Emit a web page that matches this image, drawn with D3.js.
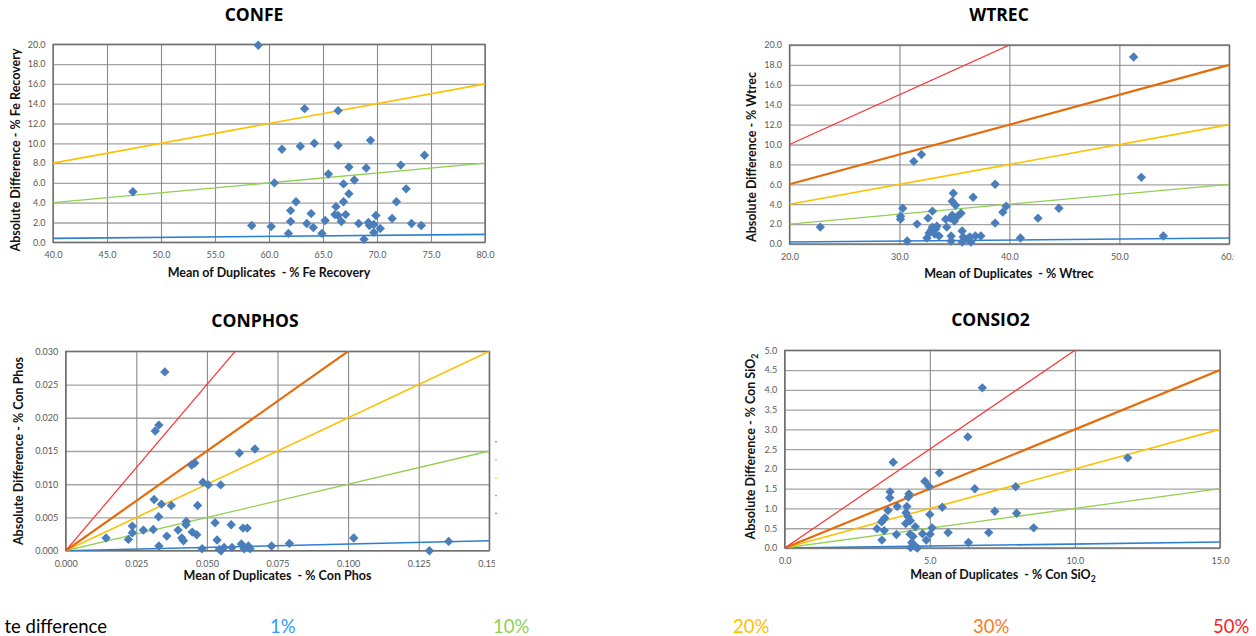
<!DOCTYPE html>
<html>
<head>
<meta charset="utf-8">
<script src="https://cdn.jsdelivr.net/npm/d3@7"></script>
<style>
  body { margin: 0; background: #fff; }
  svg { display: block; font-family: Lato, "Open Sans", sans-serif; }
</style>
</head>
<body>
<svg id="chart" width="1256" height="636"></svg>
<script>
// percent-difference reference lines
var pctLevels = [0.01, 0.10, 0.20, 0.30, 0.50];
var pctLabels = ["1%", "10%", "20%", "30%", "50%"];
var legendTitle = "te difference"; // left part is cut off in the source picture

// CONFE
var confeX = [59.0,47.4,61.2,60.5,62.5,62.0,62.0,61.8,58.4,60.2,62.9,63.3,66.4,64.2,66.4,69.4,74.4,72.2,67.4,69.0,65.5,67.9,66.9,72.7,67.4,66.9,71.8,66.2,63.9,66.1,66.4,67.1,69.9,71.4,63.5,65.2,66.7,68.3,69.2,69.3,69.7,73.2,74.1,64.1,70.3,69.7,64.9,68.8];
var confeY = [19.9,5.1,9.4,6.0,4.1,3.2,2.1,0.9,1.7,1.6,9.7,13.5,13.3,10.0,9.8,10.3,8.8,7.8,7.6,7.5,6.9,6.3,5.9,5.4,4.9,4.1,4.1,3.6,2.9,2.8,2.7,2.8,2.7,2.4,1.9,2.2,2.1,1.9,2.0,1.7,1.8,1.9,1.7,1.5,1.4,1.0,0.9,0.3];
var confeXTicks = [40,45,50,55,60,65,70,75,80];
var confeYTicks = [0,2,4,6,8,10,12,14,16,18,20];

// WTREC
var wtrecX = [22.8,30.1,30.1,30.3,30.7,31.3,32.0,31.6,32.6,33.0,32.5,32.7,32.9,33.0,33.2,33.3,33.4,33.6,34.2,34.3,34.7,34.7,34.6,34.8,34.9,34.8,35.1,35.0,35.2,35.4,35.6,35.7,35.8,35.7,36.2,36.4,36.5,36.7,36.9,37.4,38.7,38.7,39.4,39.7,41.0,42.6,44.5,51.3,52.0,54.0];
var wtrecY = [1.7,2.8,2.5,3.6,0.3,8.3,9.0,2.0,2.6,3.3,0.6,1.1,1.4,1.7,1.0,1.5,1.8,0.8,2.5,1.7,0.3,0.8,2.6,2.9,5.1,4.3,3.9,2.3,2.7,2.9,3.1,1.3,0.7,0.2,0.5,0.7,0.2,4.7,0.8,0.8,6.0,2.1,3.2,3.8,0.6,2.6,3.6,18.8,6.7,0.8];
var wtrecXTicks = [20,30,40,50,60];
var wtrecYTicks = [0,2,4,6,8,10,12,14,16,18,20];

// CONPHOS
var conphosX = [0.0143,0.0222,0.0236,0.0236,0.0275,0.0310,0.0313,0.0317,0.0330,0.0351,0.0329,0.0339,0.0330,0.0358,0.0374,0.0398,0.0411,0.0417,0.0426,0.0427,0.0446,0.0457,0.0448,0.0464,0.0467,0.0483,0.0486,0.0505,0.0529,0.0536,0.0549,0.0544,0.0550,0.0561,0.0586,0.0589,0.0615,0.0622,0.0628,0.0632,0.0643,0.0647,0.0653,0.0670,0.0729,0.0792,0.1020,0.1288,0.1356];
var conphosY = [0.0019,0.0017,0.0037,0.0027,0.0031,0.0032,0.0077,0.0180,0.0189,0.0269,0.0051,0.0070,0.0007,0.0022,0.0068,0.0031,0.0019,0.0015,0.0039,0.0044,0.0129,0.0132,0.0028,0.0024,0.0068,0.0003,0.0103,0.0099,0.0042,0.0016,0.0099,0.0002,0.0000,0.0005,0.0039,0.0005,0.0147,0.0010,0.0034,0.0003,0.0034,0.0007,0.0003,0.0153,0.0007,0.0011,0.0019,0.0000,0.0014];
var conphosXTicks = [0,0.025,0.05,0.075,0.1,0.125,0.15];
var conphosYTicks = [0,0.005,0.01,0.015,0.02,0.025,0.03];

// CONSIO2
var consio2X = [3.18,3.35,3.34,3.39,3.43,3.45,3.56,3.62,3.63,3.74,3.85,3.88,4.17,4.18,4.21,4.25,4.26,4.28,4.32,4.33,4.34,4.38,4.42,4.45,4.50,4.51,4.57,4.75,4.83,4.88,4.97,5.00,5.01,5.08,5.33,5.43,5.63,6.31,6.33,6.55,6.81,7.03,7.24,7.96,7.99,8.58,11.82];
var consio2Y = [0.49,0.20,0.66,0.71,0.44,0.76,0.95,1.27,1.42,2.17,0.34,1.05,0.62,0.89,1.05,0.79,1.29,1.37,0.35,0.69,0.01,0.14,0.29,0.07,0.54,0.03,0.00,0.36,1.69,0.20,1.56,0.85,0.35,0.51,1.90,1.03,0.39,2.81,0.14,1.50,4.05,0.39,0.93,1.55,0.88,0.51,2.28];
var consio2XTicks = [0,5,10,15];
var consio2YTicks = [0,0.5,1,1.5,2,2.5,3,3.5,4,4.5,5];

var lineColors = ["#2e7fd0", "#92d050", "#ffc000", "#e46c0a", "#ff3030"];
var lineWidths = [1.6, 1.3, 1.6, 2.2, 1.2];
var legendColors = ["#3399ff", "#92d050", "#ffc000", "#ff7a1e", "#ff1a1a"];
var legendX = [270, 493, 733, 973, 1213];

var panels = [
  { id: "confe", title: "CONFE", xs: confeX, ys: confeY, xTicks: confeXTicks, yTicks: confeYTicks, fmt: ".1f",
    box: [53, 485, 44.3, 242.3], lines: [0, 1, 2], clipRight: 520,
    titlePos: [254, 21], xLab: ["Mean of Duplicates  - % Fe Recovery"], xLabPos: [269, 277],
    yLab: ["Absolute Difference - % Fe Recovery"], yLabPos: [19.5, 150] },
  { id: "wtrec", title: "WTREC", xs: wtrecX, ys: wtrecY, xTicks: wtrecXTicks, yTicks: wtrecYTicks, fmt: ".1f",
    box: [789.5, 1229.3, 45, 244], lines: [0, 1, 2, 3, 4], clipRight: 1234,
    titlePos: [999, 21], xLab: ["Mean of Duplicates  - % Wtrec"], xLabPos: [1009, 278],
    yLab: ["Absolute Difference - % Wtrec"], yLabPos: [756, 157] },
  { id: "conphos", title: "CONPHOS", xs: conphosX, ys: conphosY, xTicks: conphosXTicks, yTicks: conphosYTicks, fmt: ".3f",
    box: [65.7, 489.3, 351.3, 550.7], lines: [0, 1, 2, 3, 4], clipRight: 495,
    titlePos: [255, 327], xLab: ["Mean of Duplicates  - % Con Phos"], xLabPos: [277.5, 580],
    yLab: ["Absolute Difference - % Con Phos"], yLabPos: [23, 451] },
  { id: "consio2", title: "CONSIO2", xs: consio2X, ys: consio2Y, xTicks: consio2XTicks, yTicks: consio2YTicks, fmt: ".1f",
    box: [784.7, 1220, 350.3, 548], lines: [0, 1, 2, 3, 4], clipRight: 1256,
    titlePos: [990.5, 326], xLab: ["Mean of Duplicates  - % Con SiO", "2"], xLabPos: [1003, 579],
    yLab: ["Absolute Difference - % Con SiO", "2"], yLabPos: [755, 446.5] }
];

var svg = d3.select("#chart");
var defs = svg.append("defs");

function addLabel(g, parts, fontSize) {
  g.append("tspan").text(parts[0]);
  if (parts.length > 1) {
    g.append("tspan").attr("font-size", fontSize * 0.7).attr("dy", 3).text(parts[1]);
  }
}

panels.forEach(function(p) {
  var x = d3.scaleLinear().domain(d3.extent(p.xTicks)).range([p.box[0], p.box[1]]);
  var y = d3.scaleLinear().domain(d3.extent(p.yTicks)).range([p.box[3], p.box[2]]);
  var w = p.box[1] - p.box[0], h = p.box[3] - p.box[2];
  var fmt = d3.format(p.fmt);

  defs.append("clipPath").attr("id", "plot-" + p.id)
    .append("rect").attr("x", p.box[0]).attr("y", p.box[2]).attr("width", w).attr("height", h);
  defs.append("clipPath").attr("id", "edge-" + p.id)
    .append("rect").attr("x", 0).attr("y", 0).attr("width", p.clipRight).attr("height", 636);

  var g = svg.append("g").attr("clip-path", "url(#edge-" + p.id + ")");

  // horizontal gridlines + y tick labels
  var yAxis = g.append("g")
    .attr("transform", "translate(" + p.box[0] + ",0)")
    .call(d3.axisLeft(y).tickValues(p.yTicks).tickSize(-w).tickPadding(7.5).tickFormat(fmt));
  yAxis.select(".domain").remove();
  yAxis.selectAll("line").attr("stroke", "#a3a3a3").attr("stroke-width", 1.3);
  yAxis.selectAll("text").attr("fill", "#595959").attr("font-size", 9).attr("font-family", "Lato");

  // vertical gridlines + x tick labels
  var xAxis = g.append("g")
    .attr("transform", "translate(0," + p.box[3] + ")")
    .call(d3.axisBottom(x).tickValues(p.xTicks).tickSize(-h).tickPadding(9.5).tickFormat(fmt));
  xAxis.select(".domain").remove();
  xAxis.selectAll("line").attr("stroke", "#8a8a8a").attr("stroke-width", 1.1);
  xAxis.selectAll("text").attr("fill", "#595959").attr("font-size", 9).attr("font-family", "Lato");

  // plot border
  g.append("rect")
    .attr("x", p.box[0]).attr("y", p.box[2]).attr("width", w).attr("height", h)
    .attr("fill", "none").attr("stroke", "#6b6b6b").attr("stroke-width", 1.3);

  // percent difference lines
  var x0 = x.domain()[0], x1 = x.domain()[1];
  g.append("g").attr("clip-path", "url(#plot-" + p.id + ")")
    .selectAll("line")
    .data(p.lines)
    .enter().append("line")
    .attr("x1", x(x0)).attr("x2", x(x1))
    .attr("y1", i => y(pctLevels[i] * x0))
    .attr("y2", i => y(pctLevels[i] * x1))
    .attr("stroke", i => lineColors[i])
    .attr("stroke-width", i => lineWidths[i]);

  // duplicate pairs
  var pts = p.xs.map((v, i) => ({ x: v, y: p.ys[i] }));
  g.append("g").selectAll("path")
    .data(pts)
    .enter().append("path")
    .attr("d", "M0,-4.7L4.7,0L0,4.7L-4.7,0Z")
    .attr("transform", d => "translate(" + x(d.x) + "," + y(d.y) + ")")
    .attr("fill", "#4a7ebb");

  // titles
  svg.append("text")
    .attr("x", p.titlePos[0]).attr("y", p.titlePos[1])
    .attr("text-anchor", "middle")
    .attr("font-family", "Open Sans").attr("font-weight", "bold").attr("font-size", 17.5)
    .attr("fill", "#000")
    .text(p.title);

  var xl = svg.append("text")
    .attr("x", p.xLabPos[0]).attr("y", p.xLabPos[1])
    .attr("text-anchor", "middle").style("white-space", "pre")
    .attr("font-weight", "bold").attr("font-size", 12.5).attr("fill", "#111");
  addLabel(xl, p.xLab, 12.5);

  var yl = svg.append("text")
    .attr("transform", "translate(" + p.yLabPos[0] + "," + p.yLabPos[1] + ") rotate(-90)")
    .attr("text-anchor", "middle")
    .attr("font-weight", "bold").attr("font-size", 12.5).attr("fill", "#111");
  addLabel(yl, p.yLab, 12.5);
});

// stub of a cut-off legend beside CONPHOS
var stubY = [441.7, 459.7, 478.3, 495.7, 513.3];
svg.append("g").selectAll("rect")
  .data(stubY)
  .enter().append("rect")
  .attr("x", 495).attr("y", d => d - 0.5).attr("width", 2).attr("height", 1)
  .attr("fill", (d, i) => lineColors[i]);

// bottom legend row
var legend = svg.append("g").attr("font-size", 18.5).attr("font-family", "Lato");
legend.append("text")
  .attr("x", 107).attr("y", 633).attr("text-anchor", "end").attr("fill", "#000")
  .text(legendTitle);
legend.selectAll("text.pct")
  .data(pctLabels)
  .enter().append("text")
  .attr("class", "pct")
  .attr("x", (d, i) => legendX[i])
  .attr("y", 633)
  .attr("fill", (d, i) => legendColors[i])
  .text(d => d);
</script>
</body>
</html>
